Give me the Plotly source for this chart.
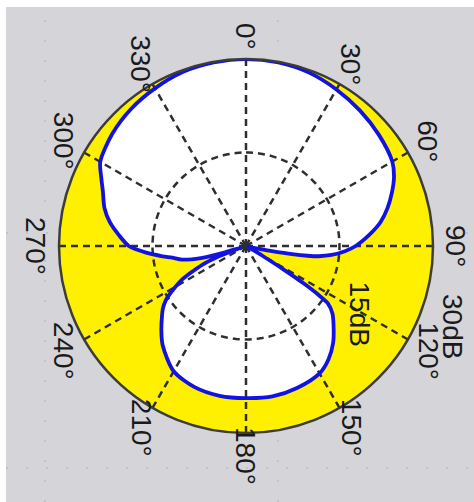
import math
import plotly.graph_objects as go

# Radiation pattern: azimuth (deg, clockwise from 0 at top) and gain in dB
ANGLE_DEG = [
    0, 10, 20, 30, 40, 50, 60, 65, 70, 75, 80, 85, 90, 93, 96, 98, 99, 100,
    101, 102, 105, 110, 115, 119, 121, 122, 123, 124, 125, 128, 132, 138, 144,
    150, 160, 170, 180, 190, 200, 210, 220, 225, 230, 233, 236, 239, 242, 244,
    247, 249, 250, 251, 252, 253, 255, 258, 261, 263, 266, 270, 275, 280, 285,
    291, 295, 300, 310, 320, 330, 340, 350, 360,
]
GAIN_DB = [
    30.0, 29.9, 29.6, 29.0, 28.4, 27.8, 27.1, 26.2, 24.9, 23.5, 21.9, 19.8,
    17.6, 15.9, 13.8, 11.8, 10.0, 7.5, 4.0, 2.0, 0.8, 0.4, 0.4, 1.0, 3.5, 7.0,
    11.0, 14.0, 16.0, 17.6, 18.9, 20.9, 22.5, 23.6, 24.2, 24.5, 24.4, 24.4,
    24.1, 23.2, 20.8, 19.2, 17.6, 16.7, 15.5, 13.7, 11.8, 10.0, 7.5, 5.0, 3.0,
    1.0, 1.0, 3.5, 7.5, 10.5, 12.0, 13.5, 15.9, 18.8, 20.5, 22.2, 23.5, 24.6,
    25.6, 27.0, 28.0, 28.7, 29.2, 29.7, 29.9, 30.0,
]

# Axis definitions
ANGLE_TICKS = [0, 30, 60, 90, 120, 150, 180, 210, 240, 270, 300, 330]
ANGLE_LABELS = ["0°", "30°", "60°", "90°", "120°", "150°",
                "180°", "210°", "240°", "270°", "300°", "330°"]
RING_DB = [15, 30]
RING_LABELS = ["15dB", "30dB"]
R_MAX = 30

# Page geometry (px)
FIG_W, FIG_H = 474, 502
CX, CY, RAD = 246, 246, 187          # polar centre and radius
LABEL_R = 210                         # distance of angle labels from centre

BG = "#d5d4d8"
DISC = "#fff000"
GRID = "#2e2e2e"
TXT = "#1a1a1a"
FONT = "Liberation Sans"
FONT_SIZE = 28
DASH = "7px,5px"

fig = go.Figure()

# white area enclosed by the pattern
fig.add_trace(go.Scatterpolar(
    r=GAIN_DB, theta=ANGLE_DEG, mode="lines", fill="toself",
    fillcolor="white",
    line=dict(width=0, color="white", shape="spline", smoothing=0.8),
    hoverinfo="skip", showlegend=False))

# dashed spokes
sp_r, sp_t = [], []
for a in ANGLE_TICKS:
    sp_r += [0, R_MAX, None]
    sp_t += [a, a, None]
fig.add_trace(go.Scatterpolar(
    r=sp_r, theta=sp_t, mode="lines",
    line=dict(color=GRID, width=2.5, dash=DASH),
    hoverinfo="skip", showlegend=False))

# dashed inner ring
ring_theta = list(range(0, 361, 2))
fig.add_trace(go.Scatterpolar(
    r=[RING_DB[0]] * len(ring_theta), theta=ring_theta, mode="lines",
    line=dict(color=GRID, width=2.5, dash=DASH),
    hoverinfo="skip", showlegend=False))

# pattern outline
fig.add_trace(go.Scatterpolar(
    r=GAIN_DB, theta=ANGLE_DEG, mode="lines",
    line=dict(color="#1212e4", width=3.8, shape="spline", smoothing=0.8),
    hoverinfo="skip", showlegend=False))

dom_x = [(CX - RAD) / FIG_W, (CX + RAD) / FIG_W]
dom_y = [1 - (CY + RAD) / FIG_H, 1 - (CY - RAD) / FIG_H]

annotations = []
for a, lab in zip(ANGLE_TICKS, ANGLE_LABELS):
    t = math.radians(a)
    px = CX + LABEL_R * math.sin(t)
    py = CY - LABEL_R * math.cos(t)
    annotations.append(dict(
        x=px / FIG_W, y=1 - py / FIG_H, xref="paper", yref="paper",
        text=lab, showarrow=False, textangle=90,
        xanchor="center", yanchor="middle",
        font=dict(family=FONT, size=FONT_SIZE, color=TXT)))

# radial labels set along a slanted line beside the rings
for v, lab in zip(RING_DB, RING_LABELS):
    rp = v / R_MAX * RAD
    px = CX + 21 + rp * math.sin(math.radians(97.5))
    py = CY + 56 - rp * math.cos(math.radians(97.5))
    annotations.append(dict(
        x=px / FIG_W, y=1 - py / FIG_H, xref="paper", yref="paper",
        text=lab, showarrow=False, textangle=90,
        xanchor="center", yanchor="middle",
        font=dict(family=FONT, size=FONT_SIZE, color=TXT)))

shapes = [
    dict(type="rect", xref="paper", yref="paper", x0=0, x1=1,
         y0=1 - 7 / FIG_H, y1=1, fillcolor="white", line=dict(width=0),
         layer="below"),
    dict(type="rect", xref="paper", yref="paper", x0=0, x1=6 / FIG_W,
         y0=0, y1=1, fillcolor="white", line=dict(width=0), layer="below"),
]
# faint dotted background grid
for gx in (45, 278):
    shapes.append(dict(type="line", xref="paper", yref="paper",
                       x0=gx / FIG_W, x1=gx / FIG_W, y0=0, y1=1 - 7 / FIG_H,
                       line=dict(color="#c2c2c7", width=2, dash="2px,18px"),
                       layer="below"))
for gy in (233, 468):
    shapes.append(dict(type="line", xref="paper", yref="paper",
                       x0=6 / FIG_W, x1=1, y0=1 - gy / FIG_H, y1=1 - gy / FIG_H,
                       line=dict(color="#c2c2c7", width=2, dash="2px,18px"),
                       layer="below"))

fig.update_layout(
    width=FIG_W, height=FIG_H,
    margin=dict(l=0, r=0, t=0, b=0),
    paper_bgcolor=BG, plot_bgcolor=BG,
    showlegend=False,
    polar=dict(
        domain=dict(x=dom_x, y=dom_y),
        bgcolor=DISC,
        radialaxis=dict(range=[0, R_MAX], visible=False),
        angularaxis=dict(
            rotation=90, direction="clockwise",
            tickvals=ANGLE_TICKS, showticklabels=False, ticks="",
            showgrid=False, showline=True,
            linecolor="#3c3c3c", linewidth=2.5,
        ),
    ),
    annotations=annotations,
    shapes=shapes,
)

fig.write_html("out.html")
